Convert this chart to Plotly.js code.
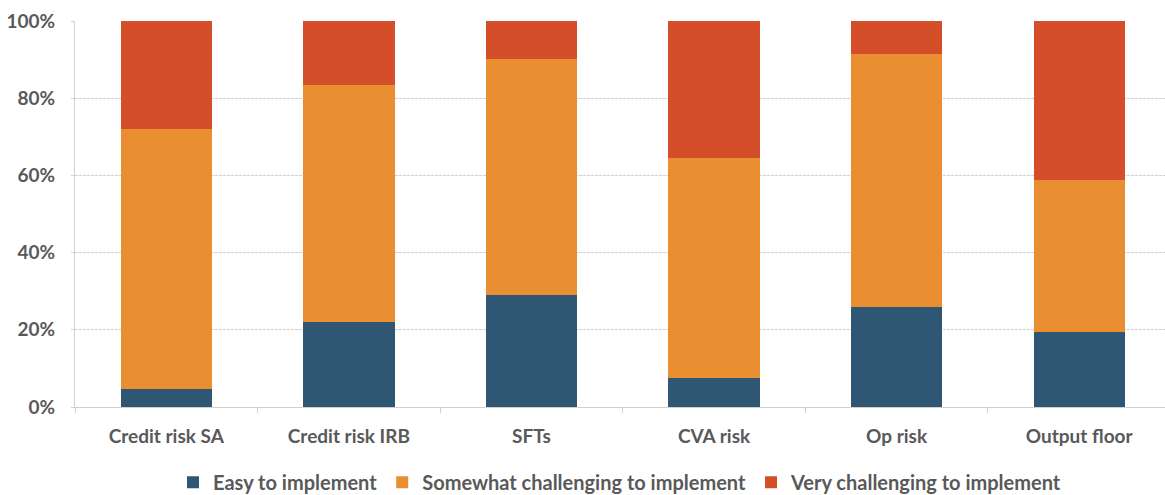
<!DOCTYPE html>
<html>
<head>
<meta charset="utf-8">
<script src="https://cdn.plot.ly/plotly-3.0.1.min.js"></script>
<style>
  html, body { margin: 0; padding: 0; background: #ffffff; }
  #chart { width: 1165px; height: 495px; }
</style>
</head>
<body>
<div id="chart"></div>
<script>
// Share of respondents by implementation difficulty, per reform area (%)
const categories = ["Credit risk SA", "Credit risk IRB", "SFTs", "CVA risk", "Op risk", "Output floor"];
const easy      = [4.7, 22.1, 29.1, 7.4, 25.8, 19.5];
const somewhat  = [67.4, 61.2, 61.0, 57.0, 65.6, 39.2];
const very      = [27.9, 16.7, 9.9, 35.6, 8.6, 41.3];

const seriesNames = ["Easy to implement", "Somewhat challenging to implement", "Very challenging to implement"];
const seriesColors = ["#2f5672", "#e98f31", "#d44e29"];
const yTicks = [0, 20, 40, 60, 80, 100];

const baseFont = { family: "Lato, 'Open Sans', sans-serif", color: "#595959", weight: "bold" };
const tickFont = Object.assign({ size: 19 }, baseFont);
const legendFont = Object.assign({ size: 20 }, baseFont);

const traces = [easy, somewhat, very].map((vals, i) => ({
  type: "bar",
  x: categories,
  y: vals,
  name: seriesNames[i],
  marker: { color: seriesColors[i], line: { width: 0 } },
  hoverinfo: "x+y+name"
}));

const layout = {
  width: 1165,
  height: 495,
  margin: { l: 75, r: 0, t: 21, b: 88 },
  paper_bgcolor: "#ffffff",
  plot_bgcolor: "#ffffff",
  barmode: "stack",
  bargap: 0.5,
  font: tickFont,
  showlegend: true,
  legend: {
    orientation: "h",
    x: 0.5, xanchor: "center",
    yref: "container",
    y: 0.026, yanchor: "middle",
    traceorder: "normal",
    font: legendFont,
    itemwidth: 30,
    itemclick: false
  },
  xaxis: {
    type: "category",
    range: [-0.5, 5.47],
    showgrid: false,
    showline: true,
    linecolor: "#d0d0d0",
    linewidth: 1,
    ticks: "outside",
    ticklen: 5,
    tickcolor: "#d0d0d0",
    tickson: "boundaries",
    ticklabelstandoff: 12,
    tickfont: tickFont,
    fixedrange: true
  },
  yaxis: {
    range: [0, 100],
    tickvals: yTicks,
    ticktext: yTicks.map(v => v + "%"),
    showgrid: true,
    gridcolor: "#cfcfcf",
    griddash: "3px,1px",
    gridwidth: 1,
    showline: true,
    linecolor: "#d0d0d0",
    ticks: "outside",
    ticklen: 3,
    tickcolor: "#d0d0d0",
    ticklabelstandoff: 12,
    tickfont: tickFont,
    zeroline: false,
    fixedrange: true
  }
};

Plotly.newPlot("chart", traces, layout, { displayModeBar: false, staticPlot: true });
</script>
</body>
</html>
